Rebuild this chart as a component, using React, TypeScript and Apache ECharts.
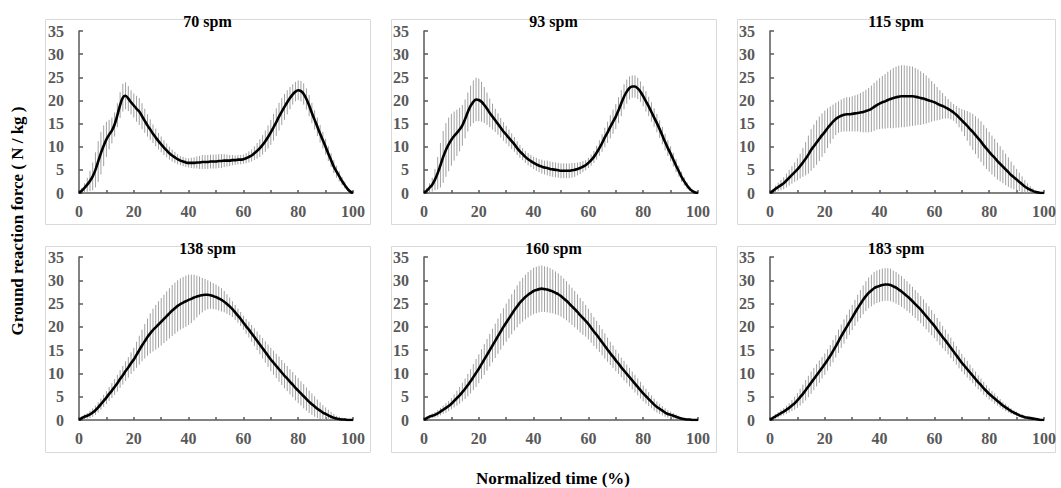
import React, { useEffect, useRef } from 'react';
import * as echarts from 'echarts';

const TITLES = ['70 spm', '93 spm', '115 spm', '138 spm', '160 spm', '183 spm'];
const Y_TITLE = 'Ground reaction force ( N / kg )';
const X_TITLE = 'Normalized time (%)';
const TIME = Array.from({ length: 101 }, (_, i) => i);

const MEAN_70 = [0,0.5,1.1,1.8,2.6,3.6,5.0,6.8,8.6,10.2,11.6,12.6,13.5,14.8,16.8,19.0,20.6,21.0,20.4,19.6,18.9,18.2,17.6,16.6,15.6,14.6,13.7,12.8,12.0,11.2,10.5,9.8,9.2,8.6,8.1,7.7,7.3,7.0,6.8,6.6,6.5,6.5,6.5,6.6,6.6,6.7,6.7,6.7,6.8,6.8,6.8,6.9,6.9,7.0,7.0,7.0,7.1,7.1,7.2,7.2,7.3,7.5,7.8,8.1,8.6,9.1,9.7,10.4,11.2,12.1,13.1,14.2,15.3,16.5,17.6,18.6,19.6,20.5,21.3,21.9,22.2,22.0,21.4,20.3,18.9,17.3,15.8,14.3,12.8,11.4,10.0,8.5,7.1,5.7,4.6,3.6,2.6,1.7,0.9,0.3,0];
const SD_70 = [0.3,0.6,1.0,1.5,2.2,3.0,3.8,4.4,4.6,4.4,3.8,3.2,2.8,2.6,2.6,2.8,3.0,2.9,2.7,2.6,2.6,2.8,2.9,2.8,2.6,2.4,2.2,2.0,1.9,1.8,1.7,1.6,1.5,1.4,1.3,1.2,1.1,1.0,1.0,1.0,1.0,1.1,1.2,1.3,1.4,1.5,1.5,1.5,1.5,1.5,1.5,1.5,1.5,1.4,1.3,1.2,1.1,1.0,1.0,1.0,1.0,1.1,1.2,1.3,1.5,1.7,1.9,2.1,2.3,2.5,2.7,2.9,3.0,3.0,2.9,2.8,2.6,2.4,2.2,2.1,2.1,2.2,2.3,2.3,2.3,2.2,2.1,2.0,1.9,1.8,1.7,1.6,1.5,1.4,1.3,1.1,0.9,0.7,0.5,0.3,0.1];

const MEAN_93 = [0,0.5,1.1,1.8,2.9,4.3,6.0,7.8,9.3,10.5,11.5,12.3,13.0,13.7,14.6,16.0,17.5,18.8,19.7,20.2,20.1,19.7,19.0,18.2,17.3,16.5,15.7,14.9,14.1,13.3,12.6,11.9,11.2,10.5,9.7,9.0,8.4,7.8,7.3,6.9,6.5,6.2,5.9,5.7,5.5,5.4,5.2,5.1,5.0,4.9,4.8,4.8,4.8,4.8,4.9,5.0,5.2,5.4,5.7,6.0,6.5,7.1,7.8,8.7,9.7,10.8,12.0,13.1,14.3,15.4,16.5,17.9,19.4,20.8,21.9,22.7,23.0,23.0,22.6,21.9,20.9,19.8,18.7,17.5,16.3,15.1,13.8,12.4,11.0,9.7,8.5,7.2,5.9,4.7,3.5,2.5,1.6,0.9,0.4,0.1,0];
const SD_93 = [0.3,0.6,1.0,1.5,2.3,3.5,4.8,5.6,5.8,5.8,5.6,5.3,5.0,4.7,4.4,4.2,4.2,4.4,4.6,4.7,4.6,4.3,3.9,3.5,3.1,2.8,2.5,2.3,2.1,2.0,1.9,1.8,1.7,1.6,1.5,1.4,1.3,1.3,1.3,1.3,1.3,1.4,1.4,1.5,1.5,1.6,1.6,1.6,1.6,1.6,1.6,1.6,1.6,1.6,1.6,1.5,1.4,1.3,1.2,1.1,1.1,1.2,1.3,1.5,1.7,1.9,2.1,2.3,2.5,2.6,2.7,2.8,2.8,2.7,2.6,2.5,2.4,2.4,2.3,2.2,2.2,2.2,2.1,2.1,2.0,2.0,1.9,1.9,1.8,1.7,1.6,1.5,1.4,1.2,1.1,0.9,0.7,0.5,0.3,0.2,0.1];

const MEAN_115 = [0,0.4,0.9,1.3,1.7,2.1,2.7,3.3,3.9,4.5,5.1,5.8,6.6,7.4,8.3,9.3,10.1,10.9,11.7,12.5,13.2,14.0,14.7,15.4,16.0,16.4,16.7,16.9,17.0,17.0,17.1,17.2,17.3,17.4,17.5,17.7,17.9,18.2,18.6,19.0,19.3,19.6,19.8,20.1,20.3,20.5,20.7,20.8,20.9,20.9,20.9,20.9,20.9,20.8,20.7,20.5,20.4,20.2,20.0,19.8,19.6,19.3,19.0,18.8,18.5,18.2,17.8,17.4,16.9,16.3,15.7,15.1,14.5,13.8,13.2,12.5,11.8,11.1,10.3,9.6,8.9,8.2,7.6,6.9,6.3,5.7,5.1,4.5,3.9,3.4,2.9,2.4,1.9,1.4,1.0,0.7,0.4,0.2,0.1,0.0,0];
const SD_115 = [0.3,0.5,0.7,0.9,1.1,1.3,1.5,1.7,1.9,2.1,2.4,2.7,3.1,3.6,4.1,4.5,4.7,4.8,4.8,4.7,4.6,4.3,4.0,3.7,3.5,3.4,3.5,3.6,3.7,3.7,3.8,3.9,4.0,4.2,4.4,4.6,4.8,5.0,5.2,5.3,5.5,5.7,5.9,6.1,6.3,6.5,6.6,6.7,6.7,6.7,6.6,6.5,6.4,6.2,6.0,5.8,5.5,5.2,4.8,4.4,4.0,3.6,3.2,2.8,2.4,2.1,1.9,1.8,1.9,2.1,2.4,2.8,3.2,3.6,3.9,4.1,4.3,4.4,4.4,4.4,4.3,4.2,4.1,4.0,3.8,3.6,3.4,3.2,2.9,2.6,2.3,2.0,1.7,1.4,1.1,0.8,0.6,0.4,0.2,0.1,0.1];

const MEAN_138 = [0,0.4,0.7,0.9,1.2,1.6,2.1,2.7,3.4,4.1,4.8,5.6,6.3,7.1,7.9,8.8,9.6,10.5,11.3,12.2,13.0,14.0,15.0,16.0,16.9,17.8,18.6,19.3,19.9,20.5,21.1,21.7,22.3,22.9,23.5,24.0,24.5,24.9,25.2,25.5,25.8,26.0,26.3,26.5,26.7,26.8,26.9,26.9,26.8,26.6,26.4,26.1,25.8,25.4,24.9,24.4,23.8,23.1,22.4,21.7,20.9,20.1,19.4,18.6,17.8,17.0,16.2,15.4,14.6,13.8,13.0,12.3,11.6,10.9,10.2,9.5,8.9,8.2,7.6,6.9,6.3,5.7,5.1,4.5,3.9,3.4,2.9,2.4,2.0,1.6,1.3,1.0,0.7,0.5,0.3,0.2,0.1,0.1,0.0,0.0,0];
const SD_138 = [0.2,0.4,0.5,0.6,0.8,0.9,1.0,1.1,1.2,1.3,1.4,1.5,1.6,1.7,1.8,1.9,2.0,2.1,2.2,2.3,2.5,2.8,3.1,3.4,3.7,4.0,4.3,4.6,4.8,5.0,5.1,5.2,5.3,5.4,5.5,5.5,5.5,5.5,5.5,5.5,5.4,5.2,4.9,4.5,4.1,3.7,3.4,3.1,2.9,2.8,2.7,2.6,2.5,2.3,2.1,1.9,1.7,1.6,1.5,1.5,1.5,1.6,1.7,1.8,1.9,2.0,2.1,2.2,2.3,2.4,2.5,2.6,2.6,2.7,2.7,2.7,2.7,2.7,2.7,2.7,2.7,2.6,2.6,2.5,2.4,2.3,2.2,2.0,1.8,1.6,1.4,1.2,1.0,0.8,0.6,0.5,0.4,0.3,0.2,0.1,0.1];

const MEAN_160 = [0,0.4,0.7,0.9,1.1,1.4,1.8,2.2,2.6,3.0,3.5,4.1,4.7,5.3,6.0,6.7,7.5,8.3,9.2,10.1,11.0,12.0,13.0,14.0,15.0,16.0,17.0,18.0,19.0,20.0,20.9,21.8,22.7,23.6,24.4,25.2,25.8,26.4,26.9,27.3,27.7,27.9,28.1,28.2,28.1,28.0,27.8,27.6,27.3,27.0,26.6,26.1,25.6,25.0,24.4,23.8,23.2,22.5,21.9,21.3,20.6,19.8,19.0,18.3,17.5,16.7,15.9,15.1,14.3,13.6,12.8,12.1,11.3,10.6,9.9,9.2,8.5,7.8,7.1,6.4,5.7,5.1,4.5,3.9,3.3,2.8,2.4,2.0,1.6,1.3,1.1,0.9,0.7,0.5,0.3,0.2,0.1,0.1,0.0,0.0,0];
const SD_160 = [0.2,0.3,0.4,0.5,0.6,0.7,0.8,0.9,1.0,1.1,1.2,1.4,1.6,1.8,2.0,2.2,2.4,2.6,2.8,3.0,3.1,3.2,3.3,3.4,3.5,3.6,3.7,3.8,3.9,4.0,4.1,4.2,4.3,4.4,4.5,4.6,4.7,4.8,4.9,4.9,5.0,5.0,5.0,5.0,4.9,4.9,4.8,4.7,4.6,4.5,4.4,4.3,4.2,4.1,4.0,3.9,3.8,3.7,3.6,3.4,3.3,3.2,3.1,3.0,2.9,2.8,2.7,2.6,2.5,2.4,2.3,2.2,2.1,2.1,2.0,2.0,1.9,1.9,1.8,1.8,1.7,1.6,1.5,1.4,1.3,1.2,1.1,1.0,0.9,0.8,0.7,0.6,0.5,0.4,0.3,0.2,0.2,0.1,0.1,0.1,0.1];

const MEAN_183 = [0,0.4,0.8,1.1,1.5,1.8,2.2,2.6,3.1,3.6,4.2,4.9,5.6,6.4,7.2,8.0,8.8,9.6,10.4,11.2,12.0,12.9,13.8,14.8,15.8,16.9,18.0,19.0,20.0,21.0,22.0,23.0,24.0,24.9,25.8,26.6,27.3,27.8,28.3,28.6,28.8,29.0,29.1,29.1,29.0,28.7,28.4,28.0,27.6,27.1,26.6,26.1,25.5,24.9,24.3,23.7,23.0,22.3,21.6,20.9,20.2,19.4,18.6,17.8,17.1,16.3,15.5,14.7,13.9,13.1,12.3,11.6,10.9,10.2,9.5,8.8,8.1,7.5,6.8,6.2,5.6,5.1,4.6,4.1,3.6,3.1,2.7,2.3,1.9,1.6,1.3,1.0,0.8,0.6,0.5,0.4,0.3,0.2,0.1,0.0,0];
const SD_183 = [0.2,0.3,0.5,0.6,0.7,0.8,0.9,1.0,1.2,1.4,1.6,1.8,2.0,2.2,2.3,2.4,2.4,2.4,2.4,2.3,2.3,2.3,2.3,2.4,2.4,2.5,2.5,2.6,2.6,2.7,2.7,2.8,2.9,3.0,3.1,3.2,3.3,3.4,3.5,3.5,3.5,3.5,3.5,3.5,3.5,3.4,3.4,3.3,3.3,3.2,3.2,3.1,3.1,3.0,3.0,2.9,2.9,2.8,2.8,2.7,2.6,2.5,2.5,2.4,2.3,2.2,2.2,2.1,2.0,2.0,1.9,1.8,1.8,1.7,1.6,1.6,1.5,1.4,1.4,1.3,1.2,1.1,1.1,1.0,0.9,0.8,0.8,0.7,0.6,0.5,0.5,0.4,0.4,0.3,0.3,0.2,0.2,0.1,0.1,0.1,0.1];

const MEANS = [MEAN_70, MEAN_93, MEAN_115, MEAN_138, MEAN_160, MEAN_183];
const SDS = [SD_70, SD_93, SD_115, SD_138, SD_160, SD_183];

const FONT = '"Times New Roman", "Liberation Serif", serif';

// layout (pixels)
const GRID_LEFT = [79, 424, 770];
const GRID_TOP = [31, 257];
const GRID_W = 274;
const GRID_H = [162, 163];
const BOX_LEFT = [45, 391, 737];
const BOX_RIGHT = [370, 716, 1055];
const BOX_TOP = [19, 246];
const BOX_BOTTOM = [224, 452];

export default function App() {
  const ref = useRef<HTMLDivElement>(null);

  useEffect(() => {
    const chart = echarts.init(ref.current!, null, { renderer: 'svg' });
    const grids: any[] = [];
    const xAxes: any[] = [];
    const yAxes: any[] = [];
    const series: any[] = [];
    const graphics: any[] = [];

    for (let p = 0; p < 6; p++) {
      const col = p % 3;
      const row = Math.floor(p / 3);
      grids.push({
        left: GRID_LEFT[col],
        top: GRID_TOP[row],
        width: GRID_W,
        height: GRID_H[row],
        containLabel: false,
      });
      xAxes.push({
        gridIndex: p,
        type: 'value',
        min: 0,
        max: 100,
        interval: 10,
        axisLine: { show: true, lineStyle: { color: '#595959', width: 1.5 } },
        axisTick: { show: true, inside: true, length: 3, lineStyle: { color: '#595959', width: 1.5 } },
        axisLabel: {
          color: '#595959',
          fontWeight: 'bold',
          fontSize: 16,
          fontFamily: FONT,
          margin: 10,
          formatter: (v: number) => (v % 20 === 0 ? String(v) : ''),
        },
        splitLine: { show: false },
      });
      yAxes.push({
        gridIndex: p,
        type: 'value',
        min: 0,
        max: 35,
        interval: 5,
        axisLine: { show: true, lineStyle: { color: '#595959', width: 1.5 } },
        axisTick: { show: true, inside: true, length: 4, lineStyle: { color: '#595959', width: 1.5 } },
        axisLabel: {
          color: '#595959',
          fontWeight: 'bold',
          fontSize: 16,
          fontFamily: FONT,
          margin: 15,
        },
        splitLine: { show: false },
      });
      const mean = MEANS[p];
      const sd = SDS[p];
      series.push({
        type: 'custom',
        xAxisIndex: p,
        yAxisIndex: p,
        data: TIME.map((t, i) => [t, Math.max(0, mean[i] - sd[i]), mean[i] + sd[i]]),
        encode: { x: 0, y: [1, 2] },
        renderItem: (params: any, api: any) => {
          const x = api.value(0);
          const a = api.coord([x, api.value(1)]);
          const b = api.coord([x, api.value(2)]);
          return {
            type: 'line',
            shape: { x1: a[0], y1: a[1], x2: b[0], y2: b[1] },
            style: { stroke: '#a0a0a0', lineWidth: 1 },
          };
        },
        silent: true,
        z: 2,
      });
      series.push({
        type: 'line',
        xAxisIndex: p,
        yAxisIndex: p,
        data: TIME.map((t, i) => [t, mean[i]]),
        showSymbol: false,
        symbol: 'none',
        smooth: 0.3,
        lineStyle: { color: '#000', width: 2.6 },
        silent: true,
        z: 3,
      });

      graphics.push({
        type: 'rect',
        shape: {
          x: BOX_LEFT[col] + 0.5,
          y: BOX_TOP[row] + 0.5,
          width: BOX_RIGHT[col] - BOX_LEFT[col],
          height: BOX_BOTTOM[row] - BOX_TOP[row],
        },
        style: { fill: 'none', stroke: '#d9d9d9', lineWidth: 1 },
        z: -10,
        silent: true,
      });
      graphics.push({
        type: 'text',
        x: (BOX_LEFT[col] + BOX_RIGHT[col]) / 2,
        y: BOX_TOP[row] + 2,
        style: {
          text: TITLES[p],
          font: `bold 16px ${FONT}`,
          fill: '#000',
          align: 'center',
          verticalAlign: 'middle',
        },
        z: 10,
      });
    }

    graphics.push({
      type: 'text',
      x: 17,
      y: 221,
      rotation: Math.PI / 2,
      style: {
        text: Y_TITLE,
        font: `bold 17px ${FONT}`,
        fill: '#000',
        align: 'center',
        verticalAlign: 'middle',
      },
      z: 10,
    });
    graphics.push({
      type: 'text',
      x: 553,
      y: 478,
      style: {
        text: X_TITLE,
        font: `bold 17px ${FONT}`,
        fill: '#000',
        align: 'center',
        verticalAlign: 'middle',
      },
      z: 10,
    });

    chart.setOption({
      animation: false,
      backgroundColor: '#fff',
      grid: grids,
      xAxis: xAxes,
      yAxis: yAxes,
      series,
      graphic: graphics,
    });
    return () => chart.dispose();
  }, []);

  return (
    <div
      ref={ref}
      style={{ position: 'fixed', left: 0, top: 0, width: 1061, height: 488, background: '#fff' }}
    />
  );
}
